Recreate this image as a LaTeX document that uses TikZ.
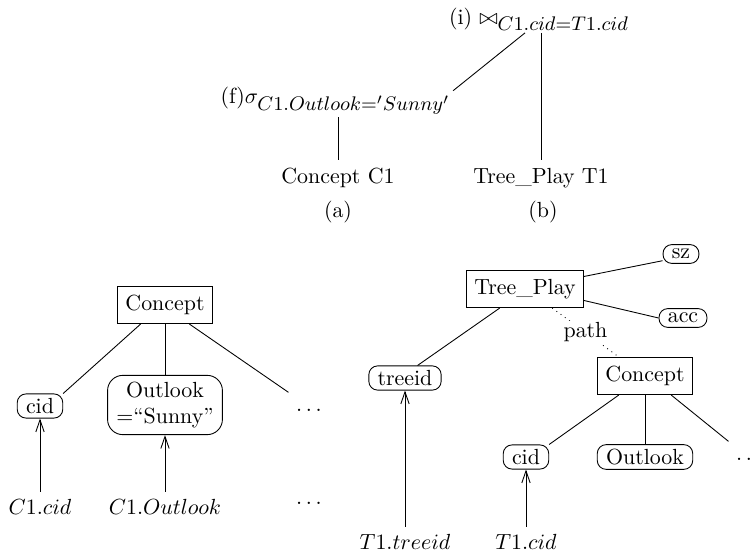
\documentclass[tikz,border=0pt]{standalone}
\usetikzlibrary{arrows.meta}
\DeclareMathSizes{10}{10}{9}{7}
\begin{document}
\begin{tikzpicture}[x=0.1605cm,y=-0.1605cm,
    op/.style={inner sep=1pt},
    box/.style={draw,inner xsep=3.5pt,inner ysep=4pt},
    attr/.style={draw,rounded corners=4pt,inner xsep=4pt,inner ysep=2pt},
    ref/.style={-{Straight Barb[length=5.5pt,width=3.8pt]}}]
\useasboundingbox (0,0) rectangle (75.6,55.6);

% План запроса
\node[op] (join) at (53.9,1.9) {(i) $\bowtie_{C1.cid=T1.cid}$};
\node[op] (sel) at (33.55,10.1) {(f)$\sigma_{C1.Outlook='Sunny'}$};
\node (conc1) at (33.8,17.8) {Concept C1};
\node (tp1) at (54.1,17.8) {Tree\_Play T1};
\node (lblA) at (33.8,21.2) {(a)};
\node (lblB) at (54.3,21.2) {(b)};
\draw ([xshift=-6.4pt]join.south) -- (sel.5);
\draw (join.south -| tp1.north) -- (tp1.north);
\draw (sel.south -| conc1.north) -- (conc1.north);

% Concept C1
\node[box] (concL) at (16.5,30.5) {Concept};
\node[attr] (cidL) at (4.0,40.6) {cid};
\node[attr,rounded corners=7pt,inner ysep=3pt,align=center] (outL) at (16.5,40.5) {Outlook\\=“Sunny”};
\node (dotsL) at (30.9,41.0) {$\ldots$};
\draw (concL.-142) -- (cidL.north east);
\draw (concL.south) -- (outL.north);
\draw (concL.-38) -- ([yshift=4pt]dotsL.north west);
\node (c1cid) at (4.0,50.7) {$C1.cid$};
\node (c1out) at (16.5,50.7) {$C1.Outlook$};
\node (dotsL2) at (30.9,50.3) {$\ldots$};

% Tree_Play T1
\node[box] (tp) at (52.5,28.9) {Tree\_Play};
\node[attr] (sz) at (68.1,25.4) {sz};
\node[attr] (acc) at (68.3,31.8) {acc};
\node[attr] (treeid) at (40.5,37.8) {treeid};
\node[box] (concR) at (64.5,37.6) {Concept};
\node[attr] (cidR) at (52.6,45.7) {cid};
\node[attr] (outR) at (64.5,45.7) {Outlook};
\node (dotsR) at (74.9,45.9) {$\ldots$};
\draw (tp.12) -- (sz.200);
\draw (tp.-11) -- (acc.west);
\draw (tp.217) -- (treeid.45);
\draw[dotted] (tp.-35) -- node[fill=white,inner sep=1pt] (pathlbl) {path} (concR.144);
\draw (concR.216) -- (cidR.north east);
\draw (concR.south) -- (outR.north);
\draw (concR.-36) -- ([yshift=4pt]dotsR.north west);
\node (t1tree) at (40.5,54.2) {$T1.treeid$};
\node (t1cid) at (52.6,54.2) {$T1.cid$};

% Ссылки на атрибуты
\foreach \a/\b in {c1cid/cidL,c1out/outL,t1tree/treeid,t1cid/cidR}
    \draw[ref] (\a) -- (\b);
\end{tikzpicture}
\end{document}
